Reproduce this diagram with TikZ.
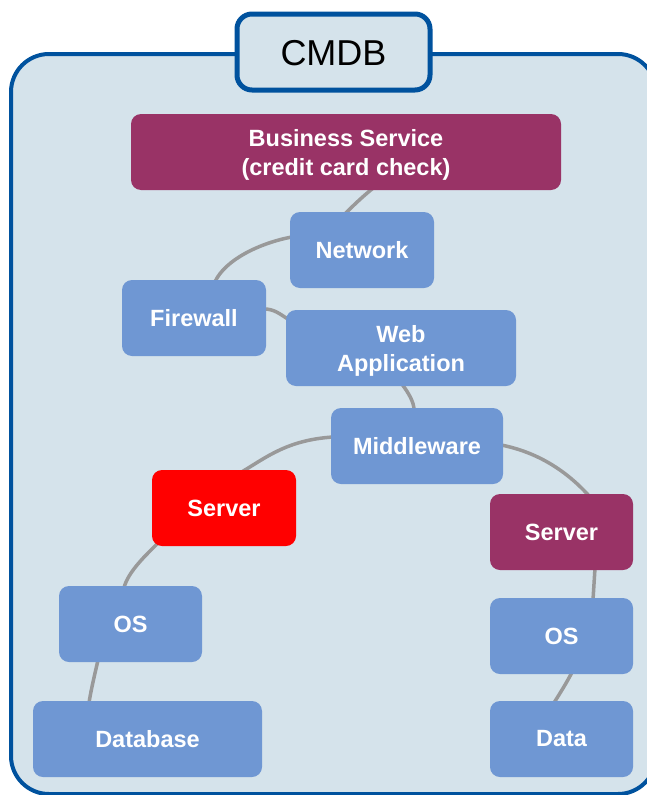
\documentclass[tikz,border=0pt]{standalone}
\usepackage{fontspec}
\setmainfont{Liberation Sans}
\pgfdeclarelayer{bglayer}
\pgfdeclarelayer{connlayer}
\pgfsetlayers{bglayer,connlayer,main}
\definecolor{boxblue}{RGB}{111,151,211}
\definecolor{boxpurple}{RGB}{153,51,102}
\definecolor{boxred}{RGB}{255,0,0}
\definecolor{panelc}{RGB}{213,227,235}
\definecolor{framec}{RGB}{0,82,158}
\definecolor{wirec}{RGB}{153,153,153}
\newcommand{\twolines}[2]{\raisebox{-3.5pt}[\height][\depth]{\begin{tabular}{@{}c@{}}#1\\#2\end{tabular}}}
\begin{document}
\begin{tikzpicture}[x=1pt,y=-1pt,
  ci/.style={rectangle, rounded corners=10pt, minimum height=76pt, inner sep=0pt,
    text=white, font=\fontsize{23.5}{28.5}\selectfont\bfseries, align=center},
  cib/.style={ci, fill=boxblue},
  cip/.style={ci, fill=boxpurple},
  cir/.style={ci, fill=boxred},
  wire/.style={draw=wirec, line width=3.5pt}
]
\useasboundingbox (0,0) rectangle (647,795);
\begin{pgfonlayer}{bglayer}
  \begin{scope}
    \clip (0,0) rectangle (647,795);
    \draw[draw=framec, line width=4pt, fill=panelc, rounded corners=38pt] (11,54) rectangle (656,794);
  \end{scope}
\end{pgfonlayer}

\node[draw=framec, line width=5pt, fill=panelc, rounded corners=15pt, minimum width=193pt,
  minimum height=76pt, inner sep=0pt, font=\fontsize{36}{40}\selectfont] (cmdb) at (333.5,52) {\raisebox{-1pt}[\height][\depth]{CMDB}};

\node[cip, minimum width=430pt] (biz) at (346,152) {\twolines{Business Service}{(credit card check)}};
\node[cib, minimum width=144pt] (net) at (362,250) {Network};
\node[cib, minimum width=144pt] (fw) at (194,318) {Firewall};
\node[cib, minimum width=230pt] (web) at (401,348) {\twolines{Web}{Application}};
\node[cib, minimum width=172pt] (mw) at (417,446) {Middleware};
\node[cir, minimum width=144pt] (srv1) at (224,508) {Server};
\node[cip, minimum width=143pt] (srv2) at (561.5,532) {Server};
\node[cib, minimum width=143pt] (os1) at (130.5,624) {OS};
\node[cib, minimum width=143pt] (os2) at (561.5,636) {OS};
\node[cib, minimum width=229pt] (db) at (147.5,739) {Database};
\node[cib, minimum width=143pt] (data) at (561.5,739) {Data};

\begin{pgfonlayer}{connlayer}
  \draw[wire] ([xshift=27pt,yshift=2pt]biz.south) .. controls +(-10,8) and +(8,-8) .. ([xshift=-17pt,yshift=-2pt]net.north);
  \draw[wire] ([xshift=2pt,yshift=13pt]net.west) .. controls +(-32,6) and +(10,-22) .. ([xshift=21pt,yshift=-2pt]fw.north);
  \draw[wire] ([xshift=-2pt,yshift=9pt]fw.east) .. controls +(10,0) and +(-8,-5) .. ([xshift=2pt,yshift=29pt]web.west);
  \draw[wire] ([xshift=1pt,yshift=2pt]web.south) .. controls +(6,8) and +(0,-8) .. ([xshift=-3pt,yshift=-2pt]mw.north);
  \draw[wire] ([xshift=2pt,yshift=9pt]mw.west) .. controls +(-45,3) and +(25,-15) .. ([xshift=18pt,yshift=-2pt]srv1.north);
  \draw[wire] ([xshift=-2pt,yshift=1pt]mw.east) .. controls +(40,8) and +(-20,-22) .. ([xshift=27.5pt,yshift=-2pt]srv2.north);
  \draw[wire] ([xshift=6pt,yshift=3pt]srv1.south west) .. controls +(-12,12) and +(4,-16) .. ([xshift=-6.5pt,yshift=-2pt]os1.north);
  \draw[wire] ([xshift=-32.5pt,yshift=2pt]os1.south) .. controls +(-3,13) and +(2,-13) .. ([xshift=-58.5pt,yshift=-2pt]db.north);
  \draw[wire] ([xshift=33.5pt,yshift=2pt]srv2.south) -- ([xshift=31.5pt,yshift=-2pt]os2.north);
  \draw[wire] ([xshift=10.5pt,yshift=2pt]os2.south) .. controls +(-5,10) and +(5,-8) .. ([xshift=-7.5pt,yshift=-2pt]data.north);
\end{pgfonlayer}
\end{tikzpicture}
\end{document}
